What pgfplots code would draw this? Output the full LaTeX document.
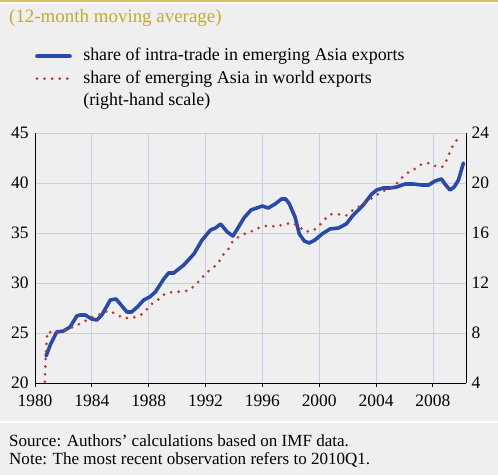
\documentclass[border=0pt]{standalone}
\usepackage{pgfplots}
\pgfplotsset{compat=1.18}
\usepackage{fontspec}
\setmainfont{Liberation Serif}
\definecolor{bgGray}{RGB}{239,239,239}
\definecolor{goldLine}{RGB}{212,192,92}
\definecolor{goldText}{RGB}{196,172,40}
\definecolor{seriesBlue}{RGB}{40,74,170}
\definecolor{seriesRed}{RGB}{190,55,45}
\definecolor{gridBlue}{RGB}{200,204,238}

\pgfplotsset{
  chartbase/.style={
    scale only axis,
    width=431bp,height=250bp,
    xmin=1980,xmax=2010.33,
    tick label style={font=\fontsize{17.5}{19}\selectfont},
    /pgf/number format/assume math mode=true,
    /pgf/number format/1000 sep={},
    axis line style={black,line width=0.9pt,-},
  },
  bluestyle/.style={seriesBlue,line width=3.6pt,line join=round,line cap=round},
  redstyle/.style={seriesRed,line width=3pt,line cap=round,dash pattern=on 0pt off 7.6pt},
}

\begin{document}
\begin{tikzpicture}[x=1bp,y=1bp]
\fill[bgGray] (0,0) rectangle (498,475);
\useasboundingbox (0,0) rectangle (498,475);
\fill[goldLine] (0,472.6) rectangle (498,475);
\fill[white] (0,470.8) rectangle (498,472.6);
\fill[white] (0,52) rectangle (498,54.4);

\node[anchor=west,text=goldText,font=\fontsize{19}{22}\selectfont,inner sep=0] at (9,457) {(12-month moving average)};
\node[anchor=west,font=\fontsize{17.1}{19}\selectfont,inner sep=0] at (9,34.5) {Source: Authors' calculations based on IMF data.};
\node[anchor=west,font=\fontsize{17.1}{19}\selectfont,inner sep=0] at (9,15.5) {Note: The most recent observation refers to 2010Q1.};

% left scale: intra-trade share
\begin{axis}[chartbase,
  at={(35bp,92bp)},anchor=south west,
  axis x line*=bottom,axis y line*=left,
  ymin=20,ymax=45,ytick={20,25,...,45},
  xtick={1980,1984,...,2008},
  grid=major,grid style={gridBlue,line width=0.8pt},
  xtick style={black,line width=0.9pt},
  ytick style={draw=none},
  tick align=outside,major tick length=4bp,
  xticklabel style={yshift=-4bp},
  yticklabel style={xshift=1bp},
  legend style={at={(axis description cs:0,1)},anchor=north west,
    yshift=85.5bp,draw=none,fill=none,inner sep=0pt,
    font=\fontsize{18}{22}\selectfont,
    nodes={inner sep=0pt,text height=13bp,text depth=4bp},
    column sep=11.5bp,row sep=5.5bp,
    cells={anchor=west}},
  legend cell align=left,
  legend image code/.code={\draw[#1] (0bp,0bp) -- (33bp,0bp);},
]
\addplot[bluestyle] coordinates {
(1980.78,22.7)(1981.1,23.9)(1981.53,25.1)(1982.0,25.2)(1982.47,25.6)(1982.94,26.7)
(1983.18,26.8)(1983.53,26.8)(1984.0,26.4)(1984.35,26.3)(1984.7,26.8)(1985.3,28.3)
(1985.7,28.4)(1986.0,27.9)(1986.47,27.1)(1986.8,27.1)(1987.2,27.6)(1987.65,28.3)
(1988.07,28.6)(1988.47,29.1)(1989.06,30.4)(1989.4,31.0)(1989.76,31.0)(1990.47,31.8)
(1991.18,32.9)(1991.76,34.3)(1992.35,35.3)(1992.7,35.5)(1993.06,35.9)(1993.53,35.1)
(1993.93,34.7)(1994.24,35.4)(1994.7,36.5)(1995.2,37.3)(1995.6,37.5)(1996.0,37.7)
(1996.4,37.5)(1996.9,37.9)(1997.35,38.4)(1997.65,38.4)(1997.9,37.9)(1998.3,36.6)
(1998.6,34.9)(1998.95,34.2)(1999.3,34.0)(1999.7,34.3)(2000.2,34.9)(2000.75,35.4)
(2001.35,35.5)(2001.9,35.9)(2002.4,36.8)(2003.1,37.8)(2003.7,38.9)(2004.05,39.3)
(2004.5,39.5)(2005.0,39.5)(2005.45,39.6)(2006.05,39.9)(2006.6,39.9)(2007.2,39.8)
(2007.7,39.8)(2008.15,40.2)(2008.6,40.4)(2008.9,39.8)(2009.2,39.3)(2009.5,39.6)
(2009.8,40.3)(2010.15,42.0)
};
\addlegendentry{share of intra-trade in emerging Asia exports}
\addlegendimage{redstyle}
\addlegendentry{share of emerging Asia in world exports}
\addlegendimage{empty legend}
\addlegendentry{(right-hand scale)}
\end{axis}

% right scale: share in world exports
\begin{axis}[chartbase,
  at={(35bp,92bp)},anchor=south west,
  axis x line=none,axis y line*=right,
  ymin=4,ymax=24,ytick={4,8,...,24},
  ytick style={draw=none},
  yticklabel style={xshift=2bp},
]
\addplot[redstyle] coordinates {
(1980.7,4.1)(1980.75,6.1)(1980.87,8.1)(1981.48,8.0)(1982.0,8.2)(1982.5,8.4)
(1983.1,8.7)(1983.6,9.0)(1984.1,9.3)(1984.6,9.5)(1985.2,9.8)(1985.7,9.5)
(1986.2,9.2)(1986.8,9.2)(1987.4,9.4)(1987.8,9.8)(1988.2,10.3)(1988.7,10.7)
(1989.1,11.1)(1989.7,11.3)(1990.2,11.3)(1990.8,11.4)(1991.25,11.8)(1991.65,12.3)
(1992.05,12.8)(1992.5,13.2)(1992.9,13.6)(1993.2,14.2)(1993.6,14.7)(1993.9,15.3)
(1994.35,15.7)(1994.9,16.0)(1995.4,16.2)(1995.9,16.5)(1996.45,16.6)(1997.0,16.5)
(1997.5,16.7)(1998.1,16.8)(1998.6,16.5)(1999.0,16.1)(1999.6,16.2)(2000.0,16.6)
(2000.4,17.1)(2000.8,17.5)(2001.35,17.5)(2001.9,17.4)(2002.45,17.9)(2002.95,18.2)
(2003.4,18.6)(2003.9,18.9)(2004.35,19.3)(2004.9,19.5)(2005.4,19.9)(2005.8,20.4)
(2006.2,20.8)(2006.7,21.1)(2007.2,21.5)(2007.75,21.6)(2008.25,21.3)(2008.7,21.3)
(2009.0,21.9)(2009.2,22.5)(2009.45,23.1)(2009.8,23.6)
};
\end{axis}
\end{tikzpicture}
\end{document}
